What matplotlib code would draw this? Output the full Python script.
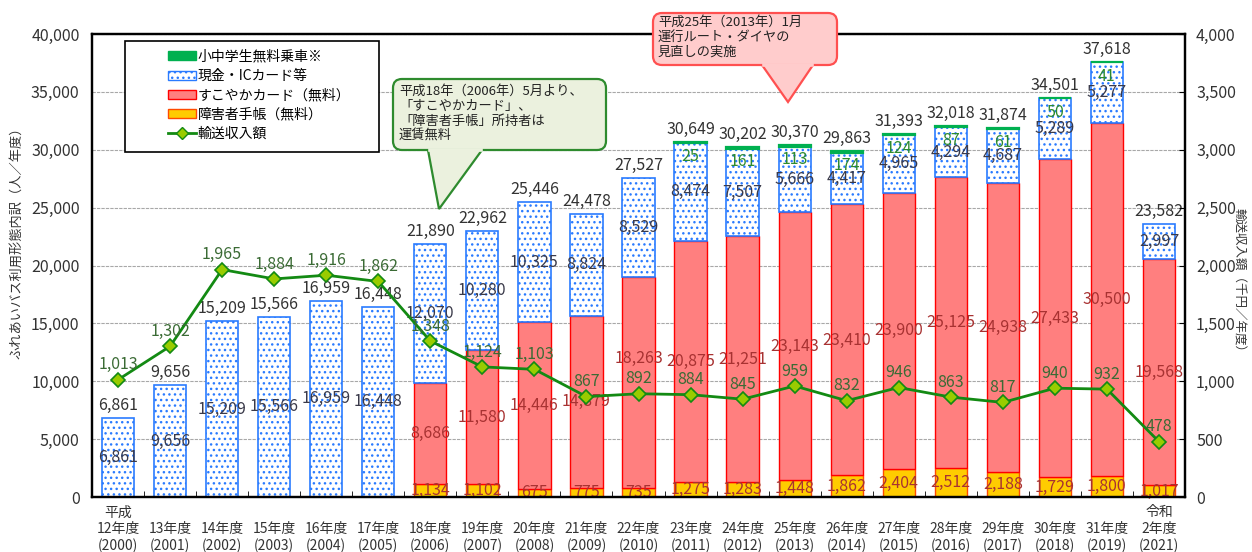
import numpy as np
import matplotlib
matplotlib.use("Agg")
import matplotlib.pyplot as plt
from matplotlib.patches import Patch, Rectangle, FancyBboxPatch, Polygon
from matplotlib.lines import Line2D
from matplotlib.transforms import IdentityTransform
from matplotlib.ticker import FuncFormatter, MultipleLocator

plt.rcParams['font.family'] = ['Noto Sans CJK JP', 'DejaVu Sans']
plt.rcParams['hatch.linewidth'] = 1.0

# ── data ──────────────────────────────────────────────────────────────
eras = ["平成", "", "", "", "", "", "", "", "", "", "", "", "", "", "", "", "", "", "", "", "令和"]
nendo = ["12", "13", "14", "15", "16", "17", "18", "19", "20", "21", "22",
         "23", "24", "25", "26", "27", "28", "29", "30", "31", "2"]
years = [2000, 2001, 2002, 2003, 2004, 2005, 2006, 2007, 2008, 2009, 2010,
         2011, 2012, 2013, 2014, 2015, 2016, 2017, 2018, 2019, 2021]

disability = np.array([0, 0, 0, 0, 0, 0, 1134, 1102, 675, 775, 735,
                       1275, 1283, 1448, 1862, 2404, 2512, 2188, 1729, 1800, 1017])
sukoyaka = np.array([0, 0, 0, 0, 0, 0, 8686, 11580, 14446, 14879, 18263,
                     20875, 21251, 23143, 23410, 23900, 25125, 24938, 27433, 30500, 19568])
cash = np.array([6861, 9656, 15209, 15566, 16959, 16448, 12070, 10280, 10325, 8824, 8529,
                 8474, 7507, 5666, 4417, 4965, 4294, 4687, 5289, 5277, 2997])
children = np.array([0, 0, 0, 0, 0, 0, 0, 0, 0, 0, 0,
                     25, 161, 113, 174, 124, 87, 61, 50, 41, 0])
revenue = np.array([1013, 1302, 1965, 1884, 1916, 1862, 1348, 1124, 1103, 867, 892,
                    884, 845, 959, 832, 946, 863, 817, 940, 932, 478])

W, H = 1252, 552
fig = plt.figure(figsize=(W / 100, H / 100), dpi=100)
ax1 = fig.add_axes([92 / W, 1 - 497 / H, (1185 - 92) / W, (497 - 34) / H])
ax2 = ax1.twinx()

x = np.arange(len(years))
bw = 0.62
total = disability + sukoyaka + cash + children

m = disability > 0
ax1.bar(x[m], disability[m], bw, color="#FFCC00", edgecolor="#FF4A00", lw=1.0, zorder=2)
m = sukoyaka > 0
ax1.bar(x[m], sukoyaka[m], bw, bottom=disability[m], color="#FF7F7F",
        edgecolor="#FF0000", lw=1.0, zorder=2)
ax1.bar(x, cash, bw, bottom=disability + sukoyaka, color="white",
        edgecolor="#2A7BFF", hatch="...", lw=1.2, zorder=2)
m = children > 0
ax1.bar(x[m], children[m], bw, bottom=(disability + sukoyaka + cash)[m],
        color="#00B050", edgecolor="#00B050", lw=1.6, zorder=2)

lab = dict(ha="center", fontsize=11.5)
for i in x:
    ax1.text(i, total[i] + 350, f"{total[i]:,}", va="bottom", color="#333333", **lab)
    base = disability[i] + sukoyaka[i]
    ax1.text(i, base + cash[i] / 2, f"{cash[i]:,}", va="center", color="#3A3A4A", **lab)
    if sukoyaka[i] > 0:
        ys = disability[i] + sukoyaka[i] / 2
        if years[i] == 2010:
            ys += 2100
        ax1.text(i, ys, f"{sukoyaka[i]:,}", va="center", color="#A83232", **lab)
    if disability[i] > 0:
        ax1.text(i, max(disability[i] / 2, 350), f"{disability[i]:,}", va="center",
                 color="#A83232", **lab)
    if children[i] > 0:
        ax1.text(i, total[i] - 1250, f"{children[i]:,}", va="center", color="#2E8B2E", **lab)

ax2.plot(x, revenue, color="#138A13", lw=2, marker="D", ms=7,
         mfc="#99CC00", mec="#138A13", mew=1.2, zorder=3)
for i in x:
    ax2.text(i, revenue[i] + 55, f"{revenue[i]:,}", va="bottom", color="#3B6B35", **lab)

# ── axes ─────────────────────────────────────────────────────────────
ax1.set_xlim(-0.5, len(x) - 0.5)
ax1.set_ylim(0, 40000)
ax2.set_ylim(0, 4000)
ax1.yaxis.set_major_locator(MultipleLocator(5000))
ax2.yaxis.set_major_locator(MultipleLocator(500))
fmt = FuncFormatter(lambda v, p: f"{int(v):,}")
ax1.yaxis.set_major_formatter(fmt)
ax2.yaxis.set_major_formatter(fmt)
ax1.tick_params(axis="y", length=0, pad=9, labelsize=11.5, labelcolor="#333333")
ax2.tick_params(axis="y", length=4, direction="in", pad=8, labelsize=11.5, labelcolor="#333333")

ax1.set_xticks(x)
ax1.set_xticklabels([f"{e}\n{n}年度\n({y})" for e, n, y in zip(eras, nendo, years)],
                    fontsize=10, color="#333333", linespacing=1.25)
ax1.set_xticks(x[:-1] + 0.5, minor=True)
ax1.tick_params(axis="x", which="major", length=0, pad=6)
ax1.tick_params(axis="x", which="minor", length=4, direction="in")

ax1.set_axisbelow(True)
ax1.yaxis.grid(True, color="#A8A8A8", lw=0.8, ls=(0, (3, 1)))
for ax in (ax1, ax2):
    for s in ax.spines.values():
        s.set_linewidth(1.6)
        s.set_color("black")

fig.text(17 / W, 1 - 240 / H, "ふれあいバス利用形態内訳（人／年度）", rotation=90,
         ha="center", va="center", fontsize=9.5, color="#333333")
fig.text(1238 / W, 1 - 283 / H, "輸送収入額（千円／年度）", rotation=270,
         ha="center", va="center", fontsize=9, color="#333333")

# ── legend (boxed) ───────────────────────────────────────────────────
ident = IdentityTransform()
fig.add_artist(Rectangle((125, H - 152), 254, 111, transform=ident, fc="white",
                         ec="black", lw=1.2, zorder=5))
handles = [
    Patch(fc="#00B050", ec="#00B050"),
    Patch(fc="white", ec="#2A7BFF", hatch="..."),
    Patch(fc="#FF7F7F", ec="#FF0000"),
    Patch(fc="#FFCC00", ec="#FF4A00"),
    Line2D([], [], color="#138A13", lw=2, marker="D", ms=6, mfc="#99CC00", mec="#138A13"),
]
names = ["小中学生無料乗車※", "現金・ICカード等", "すこやかカード（無料）",
         "障害者手帳（無料）", "輸送収入額"]
leg = fig.legend(handles, names, loc="upper left", bbox_to_anchor=(158 / W, 1 - 40 / H),
                 frameon=False, fontsize=10, handlelength=2.0, handleheight=0.6,
                 handletextpad=0.15, labelspacing=0.38, borderpad=0.2)
leg.set_zorder(6)


# ── callouts ─────────────────────────────────────────────────────────
def callout(x0, y0, x1, y1, bl, br, tip, fc, ec, lines, tx, ty, dy):
    fig.add_artist(FancyBboxPatch((x0, H - y1), x1 - x0, y1 - y0, transform=ident,
                                  boxstyle="round,pad=0,rounding_size=9",
                                  fc=fc, ec=ec, lw=1.6, zorder=7))
    fig.add_artist(Polygon([(bl, H - y1), (tip[0], H - tip[1]), (br, H - y1)],
                           closed=False, transform=ident, fc=fc, ec=ec, lw=1.6, zorder=7))
    fig.add_artist(Line2D([bl + 1.5, br - 1.5], [H - y1, H - y1], transform=ident,
                          color=fc, lw=2.6, zorder=8))
    for k, t in enumerate(lines):
        fig.text(tx / W, 1 - (ty + k * dy) / H, t, ha="left", va="center",
                 fontsize=9.5, color="#222222", zorder=9)


callout(393, 79, 606, 150, 428, 482, (439, 209), "#EBF1DE", "#2E8B2E",
        ["平成18年（2006年）5月より、", "「すこやかカード」、", "「障害者手帳」所持者は", "運賃無料"],
        399, 91, 15)
callout(653, 13, 837, 65, 762, 813, (788, 102), "#FFCCCC", "#FF5050",
        ["平成25年（2013年）1月", "運行ルート・ダイヤの", "見直しの実施"],
        658, 22, 15)

fig.savefig("out.png", dpi=100)
